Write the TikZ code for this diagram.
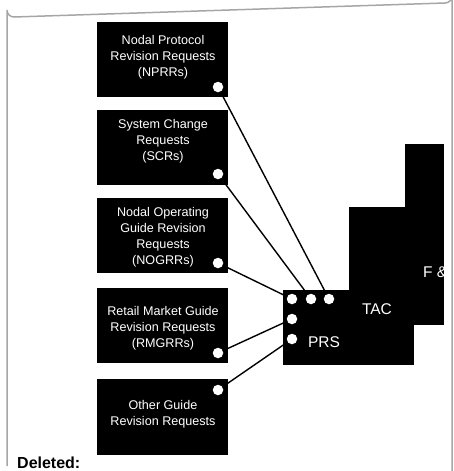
\documentclass[tikz,border=0pt]{standalone}
\usepackage{fontspec}
\setmainfont{Liberation Sans}
\usetikzlibrary{backgrounds}
\begin{document}
\begin{tikzpicture}[x=1pt,y=-1pt,
  blk/.style={fill=black,draw=none},
  wdot/.style={circle,fill=white,draw=none,minimum size=10.5pt,inner sep=0pt},
  btxt/.style={text=white,align=center,font=\fontsize{12.6}{16}\selectfont,inner sep=0pt},
  bigtxt/.style={text=white,font=\fontsize{15.5}{18}\selectfont,inner sep=0pt},
  link/.style={draw=black,line width=1.4pt}]
\useasboundingbox (0,0) rectangle (454,471);
% frame
\draw[gray!70,line width=1.5pt] (7,466) -- (7,10) arc[start angle=180,end angle=90,radius=7] -- (445,3) arc[start angle=90,end angle=0,radius=7] -- (452,471);
% request boxes
\fill[blk] (97,22) rectangle (228,97);
\fill[blk] (97,110) rectangle (228,185);
\fill[blk] (97,198) rectangle (228,273);
\fill[blk] (97,288) rectangle (228,363);
\fill[blk] (97,379) rectangle (228,455);
% committee boxes
\fill[blk] (405,144) rectangle (444,300);
\fill[blk] (349,207) rectangle (444,325);
\fill[blk] (283,290) rectangle (414,365);
% texts
\node[btxt] (tnprr) at (163,57.5) {Nodal Protocol\\Revision Requests\\(NPRRs)};
\node[btxt] (tscr) at (163,141) {System Change\\Requests\\(SCRs)};
\node[btxt] (tnogrr) at (163,237.5) {Nodal Operating\\Guide Revision\\Requests\\(NOGRRs)};
\node[btxt] (trmgrr) at (163,328) {Retail Market Guide\\Revision Requests\\(RMGRRs)};
\node[btxt] (tother) at (163,414) {Other Guide\\Revision Requests};
\node[bigtxt] (ttac) at (377,309) {TAC};
\node[bigtxt] (tprs) at (324,342) {PRS};
\begin{scope}
\clip (405,144) rectangle (444,300);
\node[bigtxt,anchor=west] (tfa) at (423,272) {F \&};
\end{scope}
% dots
\node[wdot] (dnprr) at (218,87) {};
\node[wdot] (dscr) at (218,174) {};
\node[wdot] (dnogrr) at (218,263) {};
\node[wdot] (drmgrr) at (218,353) {};
\node[wdot] (dother) at (218,390) {};
\node[wdot] (p1) at (292,299) {};
\node[wdot] (p2) at (311,299) {};
\node[wdot] (p3) at (329,299) {};
\node[wdot] (p4) at (292,319) {};
\node[wdot] (p5) at (292,339) {};
\begin{pgfonlayer}{background}
\draw[link] (dnprr.center) -- (p3.center);
\draw[link] (dscr.center) -- (p2.center);
\draw[link] (dnogrr.center) -- (p1.center);
\draw[link] (drmgrr.center) -- (p4.center);
\draw[link] (dother.center) -- (p5.center);
\end{pgfonlayer}
\node[anchor=base west,inner sep=0pt,font=\fontsize{16}{18}\selectfont\bfseries] (del) at (17,468) {Deleted:};
\end{tikzpicture}
\end{document}
